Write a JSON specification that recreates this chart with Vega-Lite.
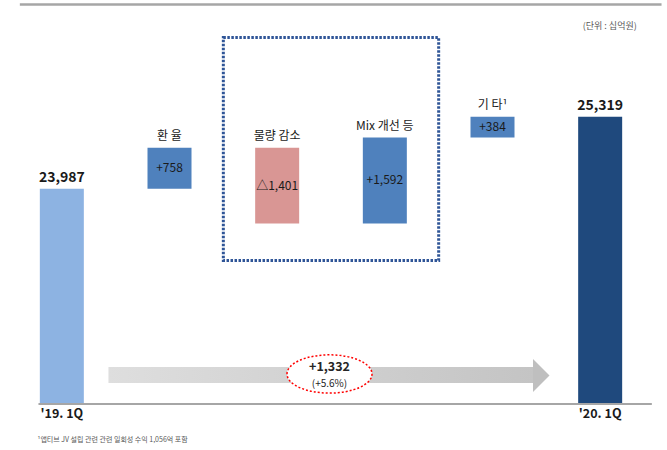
{
  "$schema": "https://vega.github.io/schema/vega-lite/v6.json",
  "width": 656,
  "height": 378,
  "autosize": {"type": "none"},
  "padding": {"left": 3, "right": 8, "top": 26, "bottom": 46},
  "background": "white",
  "config": {"view": {"stroke": null}, "font": "Noto Sans CJK KR"},
  "datasets": {
    "steps": [
      {"item": "'19. 1Q", "pos": 0, "base": 20000, "level": 23987, "role": "start", "shown": "23,987"},
      {"item": "환  율", "pos": 1, "base": 23987, "level": 24745, "role": "up", "shown": "+758"},
      {"item": "물량 감소", "pos": 2, "base": 24745, "level": 23344, "role": "down", "shown": "△1,401"},
      {"item": "Mix 개선 등", "pos": 3, "base": 23344, "level": 24936, "role": "up", "shown": "+1,592"},
      {"item": "기  타¹", "pos": 4, "base": 24936, "level": 25320, "role": "up", "shown": "+384"},
      {"item": "'20. 1Q", "pos": 5, "base": 20000, "level": 25319, "role": "end", "shown": "25,319"}
    ]
  },
  "layer": [
    {
      "data": {"values": [{}]},
      "mark": {"type": "rule", "stroke": "#A6A6A6", "strokeWidth": 2.5},
      "encoding": {
        "x": {"datum": -0.39, "type": "quantitative", "scale": {"domain": [-0.5, 5.5], "nice": false, "zero": false}, "axis": null},
        "x2": {"datum": 5.57},
        "y": {"datum": 27398, "type": "quantitative", "scale": {"domain": [20000, 27000], "nice": false, "zero": false}, "axis": null}
      }
    },
    {
      "data": {"values": [{}]},
      "mark": {"type": "text", "text": "(단위 : 십억원)", "fontSize": 9, "color": "#595959"},
      "encoding": {
        "x": {"datum": 5.089, "type": "quantitative"},
        "y": {"datum": 27009, "type": "quantitative"}
      }
    },
    {
      "data": {"values": [{}]},
      "mark": {
        "type": "rect",
        "color": {
          "gradient": "linear", "x1": 0, "y1": 0, "x2": 1, "y2": 0,
          "stops": [{"offset": 0, "color": "#DEDEDE"}, {"offset": 1, "color": "#C4C4C4"}]
        }
      },
      "encoding": {
        "x": {"datum": 0.433, "type": "quantitative"},
        "x2": {"datum": 4.38},
        "y": {"datum": 20685, "type": "quantitative"},
        "y2": {"datum": 20389}
      }
    },
    {
      "data": {"values": [{}]},
      "mark": {"type": "point", "shape": "M -0.5 -1 L 0.5 0 L -0.5 1 Z", "size": 1089, "filled": true, "color": "#BFBFBF", "opacity": 1},
      "encoding": {
        "x": {"datum": 4.453, "type": "quantitative"},
        "y": {"datum": 20528, "type": "quantitative"}
      }
    },
    {
      "data": {"values": [{}]},
      "mark": {
        "type": "point",
        "shape": "M -1 0 A 1 0.45 0 1 1 1 0 A 1 0.45 0 1 1 -1 0 Z",
        "size": 7225, "filled": true, "fill": "white", "stroke": "#FF0000",
        "strokeWidth": 1.5, "strokeDash": [2, 2], "opacity": 1
      },
      "encoding": {
        "x": {"datum": 2.486, "type": "quantitative"},
        "y": {"datum": 20556, "type": "quantitative"}
      }
    },
    {
      "data": {"values": [{}]},
      "mark": {"type": "text", "text": "+1,332", "fontSize": 12.5, "fontWeight": "bold", "color": "#262626"},
      "encoding": {
        "x": {"datum": 2.486, "type": "quantitative"},
        "y": {"datum": 20680, "type": "quantitative"}
      }
    },
    {
      "data": {"values": [{}]},
      "mark": {"type": "text", "text": "(+5.6%)", "fontSize": 10, "color": "#262626"},
      "encoding": {
        "x": {"datum": 2.486, "type": "quantitative"},
        "y": {"datum": 20365, "type": "quantitative"}
      }
    },
    {
      "data": {"values": [{}]},
      "mark": {"type": "rect", "fill": "white", "fillOpacity": 0, "stroke": "#2F5597", "strokeWidth": 3, "strokeDash": [2.5, 1.5]},
      "encoding": {
        "x": {"datum": 1.5, "type": "quantitative"},
        "x2": {"datum": 3.5},
        "y": {"datum": 22657, "type": "quantitative"},
        "y2": {"datum": 26787}
      }
    },
    {
      "data": {"name": "steps"},
      "mark": {"type": "bar", "width": 44},
      "encoding": {
        "x": {"field": "pos", "type": "quantitative"},
        "y": {"field": "base", "type": "quantitative"},
        "y2": {"field": "level"},
        "color": {
          "field": "role", "type": "nominal", "legend": null,
          "scale": {"domain": ["start", "up", "down", "end"], "range": ["#8DB3E2", "#4F81BD", "#D99694", "#1F497D"]}
        }
      }
    },
    {
      "data": {"values": [{}]},
      "mark": {"type": "rule", "stroke": "#A6A6A6", "strokeWidth": 2},
      "encoding": {
        "x": {"datum": -0.217, "type": "quantitative"},
        "x2": {"datum": 5.48},
        "y": {"datum": 20000, "type": "quantitative"}
      }
    },
    {
      "data": {"name": "steps"},
      "transform": [{"filter": "datum.role == 'start' || datum.role == 'end'"}],
      "mark": {"type": "text", "fontSize": 14, "fontWeight": "bold", "dy": -11, "color": "#1A1A1A"},
      "encoding": {
        "x": {"field": "pos", "type": "quantitative"},
        "y": {"field": "level", "type": "quantitative"},
        "text": {"field": "shown"}
      }
    },
    {
      "data": {"name": "steps"},
      "transform": [{"filter": "datum.role == 'start' || datum.role == 'end'"}],
      "mark": {"type": "text", "fontSize": 12.5, "fontWeight": "bold", "baseline": "top", "dy": 4, "color": "#1A1A1A"},
      "encoding": {
        "x": {"field": "pos", "type": "quantitative"},
        "y": {"field": "base", "type": "quantitative"},
        "text": {"field": "item"}
      }
    },
    {
      "data": {"name": "steps"},
      "transform": [
        {"filter": "datum.role == 'up' || datum.role == 'down'"},
        {"calculate": "(datum.base + datum.level) / 2", "as": "mid"}
      ],
      "mark": {"type": "text", "fontSize": 12, "color": "#1A1A1A"},
      "encoding": {
        "x": {"field": "pos", "type": "quantitative"},
        "y": {"field": "mid", "type": "quantitative"},
        "text": {"field": "shown"}
      }
    },
    {
      "data": {"name": "steps"},
      "transform": [
        {"filter": "datum.role == 'up' || datum.role == 'down'"},
        {"calculate": "max(datum.base, datum.level)", "as": "top"}
      ],
      "mark": {"type": "text", "fontSize": 12, "dy": -11.5, "color": "#1A1A1A"},
      "encoding": {
        "x": {"field": "pos", "type": "quantitative"},
        "y": {"field": "top", "type": "quantitative"},
        "text": {"field": "item"}
      }
    },
    {
      "data": {"values": [{}]},
      "mark": {"type": "text", "text": "¹앱티브 JV 설립 관련 관련 일회성 수익 1,056억 포함", "fontSize": 7, "align": "left", "color": "#595959"},
      "encoding": {
        "x": {"datum": -0.226, "type": "quantitative"},
        "y": {"datum": 19333, "type": "quantitative"}
      }
    }
  ]
}
